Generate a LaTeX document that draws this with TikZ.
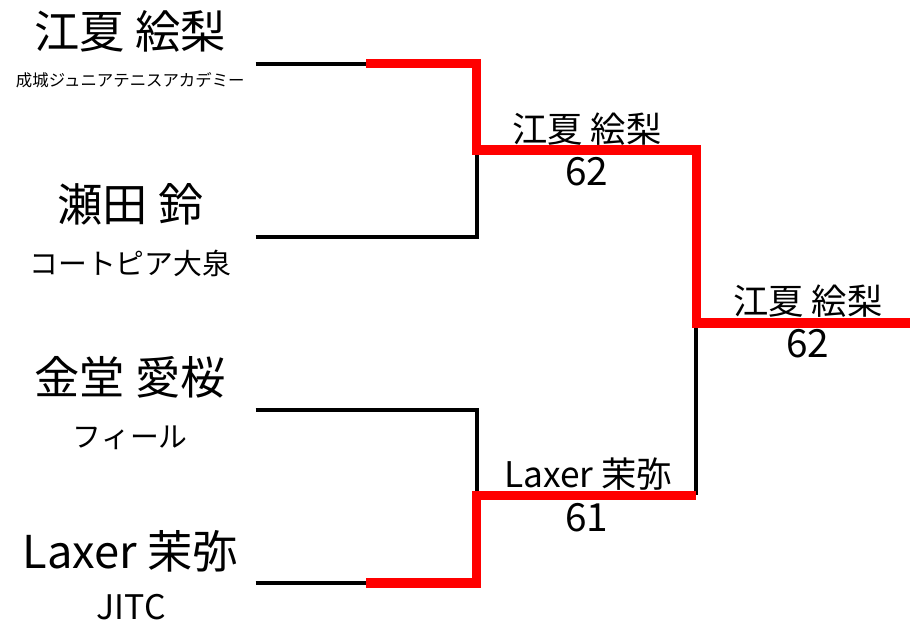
\documentclass[tikz,border=0pt]{standalone}
\usepackage{fontspec}
\setmainfont{Noto Sans CJK JP}
\newcommand*{\namefont}{\fontsize{45.5}{50}\selectfont}
\newcommand*{\clubfont}{\fontsize{29}{34}\selectfont}
\newcommand*{\longclubfont}{\fontsize{16.5}{20}\selectfont}
\newcommand*{\roundfont}{\fontsize{35.5}{40}\selectfont}
\newcommand*{\scorefont}{\fontsize{39}{44}\selectfont}
\definecolor{win}{RGB}{255,0,0}
\definecolor{black}{RGB}{0,0,0}
\usepackage{tikz}
\usetikzlibrary{positioning}
\tikzstyle{base}=[x=1pt, y=-1pt, inner sep=0pt, outer sep=0pt]
\tikzstyle{txt}=[anchor=base]
\tikzstyle{lost}=[black, line width=4pt]
\tikzstyle{won}=[win, line width=9.5pt, line join=miter]

\begin{document}
\begin{tikzpicture}[base]
    % players
    \node [txt] (n1) at (131,49) {\namefont 江夏 絵梨};
    \node [txt] (c1) at (131,87) {\longclubfont 成城ジュニアテニスアカデミー};
    \node [txt] (n2) at (131,223) {\namefont 瀬田 鈴};
    \node [txt] (c2) at (131,276) {\clubfont コートピア大泉};
    \node [txt] (n3) at (131,397) {\namefont 金堂 愛桜};
    \node [txt] (c3) at (131,450) {\clubfont フィール};
    \node [txt] (n4) at (131,571) {\namefont Laxer 茉弥};
    \node [txt] (c4) at (132,623) {\fontsize{34}{38}\selectfont JITC};
    % bracket points
    \coordinate (p1) at (257,64);   \coordinate (h1) at (368,64);
    \coordinate (p2) at (257,238);
    \coordinate (p3) at (257,412);
    \coordinate (p4) at (257,586);  \coordinate (h4) at (368,586);
    \coordinate (a1) at (479,64);   \coordinate (a2) at (479,238);
    \coordinate (a3) at (479,412);  \coordinate (a4) at (479,586);
    \coordinate (w1) at (479,151);  \coordinate (w2) at (479,498);
    \coordinate (f1) at (700,151);  \coordinate (f2) at (700,498);
    \coordinate (f) at (700,324.5); \coordinate (champ) at (915,324.5);
    % losers
    \draw [lost] (p1) -- (h1);
    \draw [lost] (p2) -- (a2) -- (w1);
    \draw [lost] (p3) -- (a3) -- (w2);
    \draw [lost] (p4) -- (h4);
    \draw [lost] (f2) -- (f);
    % winners
    \draw [won] (h1) -- (a1) -- (w1) -- (f1) -- (f) -- (champ);
    \draw [won] (h4) -- (a4) -- (w2) -- (f2);
    % results
    \node [txt] (r1) at (590,143) {\roundfont 江夏 絵梨};
    \node [txt] (s1) at (590,186) {\scorefont 62};
    \node [txt] (r2) at (591,490) {\roundfont Laxer 茉弥};
    \node [txt] (s2) at (590,534) {\scorefont 61};
    \node [txt] (r3) at (812,316) {\roundfont 江夏 絵梨};
    \node [txt] (s3) at (812,359) {\scorefont 62};
    \path [use as bounding box] (0,0) rectangle (915,627);
\end{tikzpicture}
\end{document}
